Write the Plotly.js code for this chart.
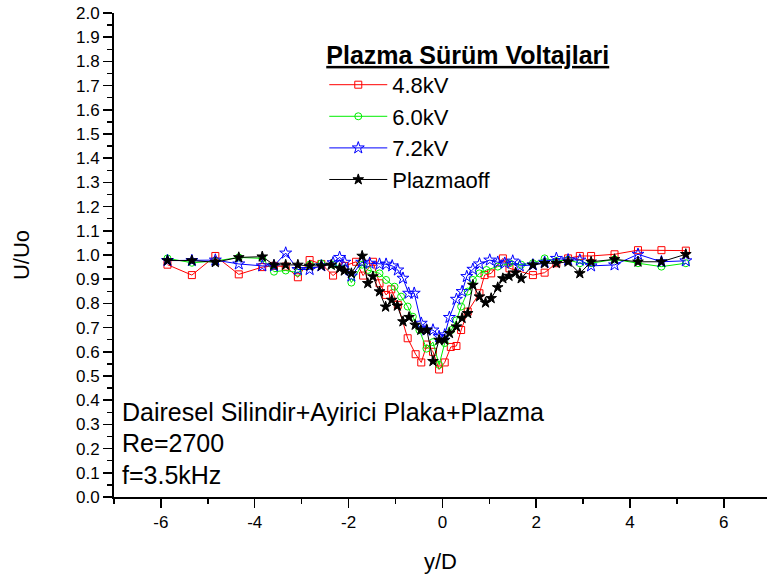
<!DOCTYPE html>
<html>
<head>
<meta charset="utf-8">
<script src="https://cdn.plot.ly/plotly-3.0.1.min.js"></script>
<style>html,body{margin:0;padding:0;background:#fff;}#chart{width:767px;height:579px;}</style>
</head>
<body>
<div id="chart"></div>
<script>
// ---- data ----
const seriesNames = ['4.8kV', '6.0kV', '7.2kV', 'Plazmaoff'];

const x48 = [-5.86,-5.34,-4.84,-4.34,-3.84,-3.59,-3.34,-3.08,-2.83,-2.58,-2.33,-2.08,-1.84,-1.69,-1.48,-1.34,-1.2,-1.09,-0.95,-0.74,-0.57,-0.45,-0.33,-0.2,-0.07,0.05,0.18,0.30,0.40,0.54,0.79,0.90,1.04,1.29,1.43,1.93,2.18,2.43,2.68,2.93,3.17,3.67,4.17,4.67,5.19];
const y48 = [0.960,0.917,0.996,0.920,0.950,0.955,0.952,0.908,0.979,0.963,0.915,0.955,0.972,0.915,0.972,0.883,0.835,0.858,0.794,0.656,0.590,0.556,0.630,0.600,0.527,0.556,0.620,0.624,0.690,0.766,0.842,0.917,0.924,0.986,0.945,0.917,0.927,0.966,0.986,0.996,0.996,1.003,1.020,1.020,1.018];

const x60 = [-5.86,-5.34,-4.84,-4.34,-3.84,-3.59,-3.34,-3.08,-2.83,-2.58,-2.33,-2.08,-1.94,-1.71,-1.59,-1.34,-1.2,-1.02,-0.88,-0.74,-0.63,-0.49,-0.34,-0.2,-0.07,0.05,0.19,0.30,0.40,0.54,0.65,0.79,0.94,1.18,1.43,1.68,1.93,2.18,2.43,2.68,2.93,3.17,3.67,4.17,4.67,5.19];
const y60 = [0.986,0.968,0.975,0.990,0.986,0.931,0.936,0.927,0.960,0.965,0.960,0.945,0.886,0.960,0.938,0.924,0.897,0.869,0.828,0.787,0.745,0.690,0.613,0.640,0.546,0.636,0.690,0.730,0.787,0.849,0.897,0.924,0.938,0.952,0.966,0.960,0.966,0.986,0.975,0.980,0.966,0.966,0.982,0.966,0.952,0.966];

const x72 = [-5.86,-5.34,-4.84,-4.34,-3.84,-3.59,-3.34,-3.08,-2.83,-2.58,-2.33,-2.19,-2.08,-1.94,-1.72,-1.55,-1.34,-1.2,-1.07,-0.95,-0.84,-0.72,-0.6,-0.45,-0.34,-0.2,-0.07,0.05,0.15,0.30,0.42,0.52,0.65,0.79,1.01,1.18,1.33,1.5,1.65,1.93,2.18,2.43,2.68,2.93,3.17,3.67,4.17,4.67,5.19];
const y72 = [0.977,0.977,0.979,0.963,0.955,0.955,1.008,0.940,0.940,0.955,0.968,0.990,0.970,0.913,0.970,0.966,0.962,0.962,0.955,0.938,0.904,0.842,0.842,0.718,0.690,0.690,0.663,0.670,0.742,0.817,0.849,0.911,0.941,0.963,0.979,0.970,0.966,0.975,0.955,0.959,0.970,0.986,0.980,0.979,0.955,0.959,1.003,0.972,0.976];

const xOff = [-5.86,-5.34,-4.84,-4.34,-3.84,-3.59,-3.34,-3.08,-2.83,-2.58,-2.37,-2.19,-2.09,-1.94,-1.71,-1.59,-1.48,-1.34,-1.21,-1.08,-0.96,-0.84,-0.71,-0.58,-0.46,-0.33,-0.2,-0.07,0.05,0.15,0.30,0.42,0.54,0.65,0.79,0.92,1.04,1.18,1.29,1.42,1.56,1.68,1.93,2.18,2.43,2.68,2.93,3.17,3.67,4.17,4.67,5.19];
const yOff = [0.977,0.977,0.970,0.990,0.993,0.959,0.959,0.959,0.955,0.955,0.959,0.945,0.935,0.924,0.996,0.883,0.911,0.849,0.786,0.814,0.790,0.725,0.743,0.711,0.690,0.690,0.561,0.649,0.649,0.677,0.704,0.739,0.759,0.876,0.828,0.803,0.821,0.866,0.903,0.913,0.927,0.903,0.959,0.966,0.966,0.972,0.924,0.972,0.982,0.972,0.972,1.003];

const xTickVals = [-6, -4, -2, 0, 2, 4, 6];
const xTickText = ['-6', '-4', '-2', '0', '2', '4', '6'];
const noteLines = ['Dairesel Silindir+Ayirici Plaka+Plazma', 'Re=2700', 'f=3.5kHz'];
const legendTitle = 'Plazma Sürüm Voltajlari';

// ---- traces ----
const FONT = 'Arial, "Liberation Sans", sans-serif';
function mk(x, y, name, color, symbol, size, fill) {
  return {
    type: 'scatter', mode: 'lines+markers', x: x, y: y, name: name,
    line: {color: color, width: 1},
    marker: {symbol: symbol, size: size, color: fill, line: {color: color, width: 1}}
  };
}
const data = [
  mk(x48, y48, seriesNames[0], '#ff0000', 'square-open', 7, '#ff0000'),
  mk(x60, y60, seriesNames[1], '#00ee00', 'circle-open', 7, '#00ee00'),
  mk(x72, y72, seriesNames[2], '#0000ff', 'star-open', 9, '#0000ff'),
  mk(xOff, yOff, seriesNames[3], '#000000', 'star', 8, '#000000')
];

const noteY = [0.176, 0.112, 0.046];
const annotations = noteLines.map((t, i) => ({
  text: t, xref: 'paper', yref: 'paper', x: 0, y: noteY[i],
  xanchor: 'left', yanchor: 'middle', xshift: 6, showarrow: false,
  font: {family: FONT, size: 25, color: '#000'}
}));

const layout = {
  width: 767, height: 579,
  margin: {l: 114, r: 0, t: 13, b: 82},
  paper_bgcolor: '#fff', plot_bgcolor: '#fff',
  font: {family: FONT, color: '#000'},
  showlegend: true,
  legend: {
    x: 0.322, xanchor: 'left', y: 0.962, yanchor: 'top',
    bgcolor: 'rgba(0,0,0,0)', borderwidth: 0,
    font: {family: FONT, size: 22, color: '#000'},
    title: {text: '<b><u>' + legendTitle + '</u></b>', font: {family: FONT, size: 25, color: '#000'}},
    itemwidth: 58, tracegroupgap: 0
  },
  xaxis: {
    range: [-7, 6.92], showgrid: false, zeroline: false,
    showline: true, linecolor: '#000', linewidth: 2,
    ticks: 'outside', tickvals: xTickVals, ticktext: xTickText, ticklen: 9, tickwidth: 1.5, tickcolor: '#000',
    minor: {tickvals: [-7,-5,-3,-1,1,3,5], ticks: 'outside', ticklen: 5, tickwidth: 1.5, tickcolor: '#000'},
    tickfont: {family: FONT, size: 17, color: '#000'},
    title: {text: 'y/D', font: {family: FONT, size: 22, color: '#000'}, standoff: 22}
  },
  yaxis: {
    range: [0, 2.0], showgrid: false, zeroline: false,
    showline: true, linecolor: '#000', linewidth: 2,
    ticks: 'outside', tick0: 0, dtick: 0.1, tickformat: '.1f', ticklen: 9, tickwidth: 1.5, tickcolor: '#000',
    minor: {dtick: 0.05, ticks: 'outside', ticklen: 5, tickwidth: 1.5, tickcolor: '#000'},
    tickfont: {family: FONT, size: 17, color: '#000'},
    title: {text: 'U/Uo', font: {family: FONT, size: 22, color: '#000'}, standoff: 40}
  },
  annotations: annotations
};

Plotly.newPlot('chart', data, layout, {displayModeBar: false, staticPlot: true});
</script>
</body>
</html>
